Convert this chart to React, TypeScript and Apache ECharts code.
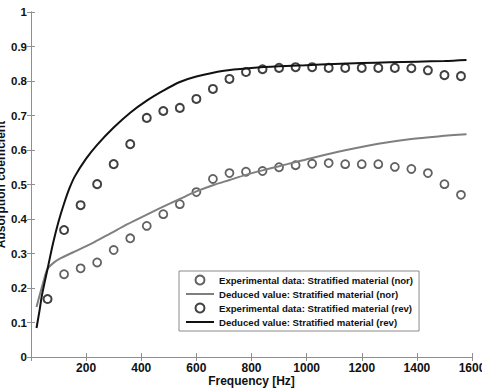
import React, { useEffect, useRef } from "react";
import * as echarts from "echarts";

// Measured absorption, stratified material, normal orientation (nor)
const norExpFreq = [120, 180, 240, 300, 360, 420, 480, 540, 600, 660, 720, 780, 840, 900, 960, 1020, 1080, 1140, 1200, 1260, 1320, 1380, 1440, 1500, 1560];
const norExpValue = [0.24, 0.257, 0.274, 0.31, 0.344, 0.38, 0.414, 0.443, 0.478, 0.516, 0.533, 0.537, 0.539, 0.55, 0.556, 0.56, 0.562, 0.559, 0.559, 0.559, 0.551, 0.545, 0.533, 0.501, 0.47];

// Deduced absorption, normal orientation
const norFitFreq = [20, 45, 60, 85, 110, 170, 230, 290, 350, 400, 470, 540, 600, 660, 720, 780, 840, 900, 960, 1020, 1140, 1260, 1380, 1500, 1580];
const norFitValue = [0.145, 0.218, 0.255, 0.275, 0.287, 0.31, 0.333, 0.359, 0.385, 0.405, 0.432, 0.458, 0.48, 0.498, 0.513, 0.528, 0.541, 0.553, 0.565, 0.577, 0.599, 0.618, 0.632, 0.641, 0.646];

// Measured absorption, reversed orientation (rev)
const revExpFreq = [60, 120, 180, 240, 300, 360, 420, 480, 540, 600, 660, 720, 780, 840, 900, 960, 1020, 1080, 1140, 1200, 1260, 1320, 1380, 1440, 1500, 1560];
const revExpValue = [0.168, 0.368, 0.44, 0.501, 0.559, 0.617, 0.693, 0.713, 0.722, 0.748, 0.777, 0.806, 0.826, 0.834, 0.838, 0.84, 0.84, 0.838, 0.838, 0.838, 0.838, 0.838, 0.837, 0.831, 0.817, 0.814];

// Deduced absorption, reversed orientation
const revFitFreq = [20, 30, 40, 60, 80, 100, 120, 140, 160, 200, 240, 300, 360, 420, 480, 540, 600, 700, 800, 900, 1000, 1100, 1200, 1300, 1400, 1500, 1580];
const revFitValue = [0.084, 0.13, 0.18, 0.255, 0.33, 0.393, 0.445, 0.49, 0.525, 0.575, 0.615, 0.665, 0.708, 0.743, 0.772, 0.797, 0.813, 0.83, 0.838, 0.843, 0.846, 0.849, 0.852, 0.854, 0.856, 0.858, 0.861];

const seriesNames = [
  "Experimental data: Stratified material (nor)",
  "Deduced value: Stratified material (nor)",
  "Experimental data: Stratified material (rev)",
  "Deduced value: Stratified material (rev)",
];

const xTicks = { min: 0, max: 1600, interval: 200 };
const yTicks = { min: 0, max: 1, interval: 0.1 };

const pairs = (xs: number[], ys: number[]) => xs.map((x, i) => [x, ys[i]]);

const FONT = "'Liberation Sans', Arial, Helvetica, sans-serif";
const AXIS_GREY = "#8f8f8f";

export default function App() {
  const ref = useRef<HTMLDivElement>(null);

  useEffect(() => {
    if (!ref.current) return;
    const chart = echarts.init(ref.current, undefined, { renderer: "svg" });

    const frameAxis = {
      axisLine: { show: true, lineStyle: { color: AXIS_GREY, width: 1 } },
      axisTick: { show: true, inside: true, length: 4, lineStyle: { color: AXIS_GREY } },
      splitLine: { show: false },
    };

    chart.setOption({
      animation: false,
      backgroundColor: "#ffffff",
      grid: { left: 31, right: 10, top: 12, bottom: 33, containLabel: false, outerBoundsMode: "none" },
      xAxis: [
        {
          type: "value",
          position: "bottom",
          ...xTicks,
          ...frameAxis,
          name: "Frequency [Hz]",
          nameLocation: "middle",
          nameGap: 18,
          nameMoveOverlap: false,
          nameTextStyle: { fontFamily: FONT, fontWeight: "bold", fontSize: 12, color: "#111" },
          axisLabel: {
            margin: 5,
            fontFamily: FONT,
            fontWeight: "bold",
            fontSize: 12,
            color: "#111",
            formatter: (v: number) => (v === 0 ? "" : String(v)),
          },
        },
        {
          type: "value",
          position: "top",
          ...xTicks,
          ...frameAxis,
          axisLabel: { show: false },
        },
      ],
      yAxis: [
        {
          type: "value",
          position: "left",
          ...yTicks,
          ...frameAxis,
          name: "Absorption coefficient",
          nameLocation: "middle",
          nameGap: 24,
          nameRotate: 90,
          nameMoveOverlap: false,
          nameTextStyle: { fontFamily: FONT, fontWeight: "bold", fontSize: 12, color: "#111" },
          axisLabel: {
            margin: 4,
            fontFamily: FONT,
            fontWeight: "bold",
            fontSize: 11.5,
            color: "#111",
            formatter: (v: number) => String(Math.round(v * 10) / 10),
          },
        },
        {
          type: "value",
          position: "right",
          ...yTicks,
          ...frameAxis,
          axisLabel: { show: false },
        },
      ],
      legend: {
        orient: "vertical",
        left: 179,
        top: 271,
        padding: [2, 6, 2, 6],
        itemGap: 0,
        itemWidth: 28,
        itemHeight: 9,
        backgroundColor: "#ffffff",
        borderColor: "#8a8a8a",
        borderWidth: 1,
        textStyle: { fontFamily: FONT, fontWeight: "bold", fontSize: 9.6, color: "#111", lineHeight: 14 },
        data: [
          { name: seriesNames[0] },
          { name: seriesNames[1], itemStyle: { opacity: 0 } },
          { name: seriesNames[2] },
          { name: seriesNames[3], itemStyle: { opacity: 0 } },
        ],
      },
      series: [
        {
          name: seriesNames[0],
          type: "scatter",
          data: pairs(norExpFreq, norExpValue),
          symbol: "circle",
          symbolSize: 8,
          itemStyle: { color: "rgba(0,0,0,0)", borderColor: "#3a3a3a", borderWidth: 1.8 },
          z: 2,
        },
        {
          name: seriesNames[1],
          type: "line",
          data: pairs(norFitFreq, norFitValue),
          showSymbol: false,
          symbol: "none",
          smooth: 0.3,
          lineStyle: { color: "#7f7f7f", width: 2 },
          itemStyle: { color: "#7f7f7f" },
          z: 3,
        },
        {
          name: seriesNames[2],
          type: "scatter",
          data: pairs(revExpFreq, revExpValue),
          symbol: "circle",
          symbolSize: 8,
          itemStyle: { color: "rgba(0,0,0,0)", borderColor: "#111111", borderWidth: 2 },
          z: 4,
        },
        {
          name: seriesNames[3],
          type: "line",
          data: pairs(revFitFreq, revFitValue),
          showSymbol: false,
          symbol: "none",
          smooth: 0.3,
          lineStyle: { color: "#111111", width: 2 },
          itemStyle: { color: "#111111" },
          z: 5,
        },
      ],
    });

    return () => chart.dispose();
  }, []);

  return (
    <div
      ref={ref}
      style={{ position: "fixed", left: 0, top: 0, width: 482, height: 390, background: "#fff" }}
    />
  );
}
